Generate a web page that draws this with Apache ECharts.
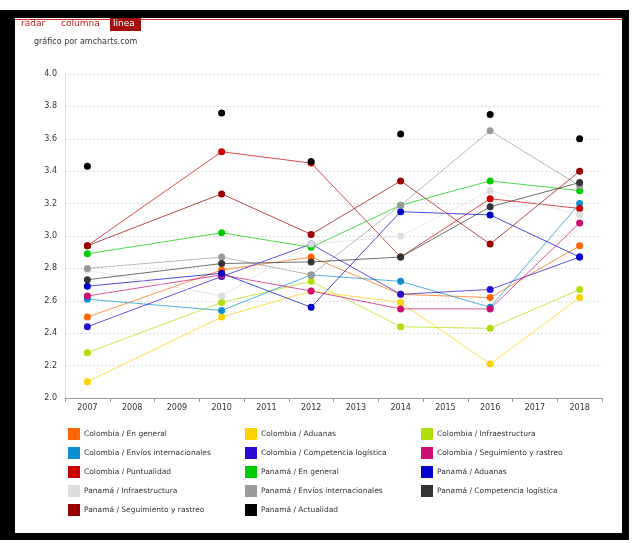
<!DOCTYPE html>
<html>
<head>
<meta charset="utf-8">
<title>Desempeño logístico: Colombia y Panamá</title>
<script src="https://cdn.jsdelivr.net/npm/echarts@6/dist/echarts.min.js"></script>
<style>
  html, body { margin: 0; padding: 0; background: #ffffff; }
  #chart { width: 634px; height: 543px; }
</style>
</head>
<body>
<div id="chart"></div>
<script>
// Years on the category axis
const years = ['2007', '2008', '2009', '2010', '2011', '2012', '2013', '2014', '2015', '2016', '2017', '2018'];

// Index values per series (null = no survey that year)
const colEnGeneral      = [2.50, null, null, 2.79, null, 2.87, null, 2.64, null, 2.62, null, 2.94];
const colAduanas        = [2.10, null, null, 2.50, null, 2.66, null, 2.59, null, 2.21, null, 2.62];
const colInfra          = [2.28, null, null, 2.59, null, 2.72, null, 2.44, null, 2.43, null, 2.67];
const colEnvios         = [2.61, null, null, 2.54, null, 2.76, null, 2.72, null, 2.56, null, 3.20];
const colCompetencia    = [2.44, null, null, 2.75, null, 2.95, null, 2.64, null, 2.67, null, 2.87];
const colSeguimiento    = [2.63, null, null, 2.76, null, 2.66, null, 2.55, null, 2.55, null, 3.08];
const colPuntualidad    = [2.94, null, null, 3.52, null, 3.45, null, 2.87, null, 3.23, null, 3.17];
const panEnGeneral      = [2.89, null, null, 3.02, null, 2.93, null, 3.19, null, 3.34, null, 3.28];
const panAduanas        = [2.69, null, null, 2.77, null, 2.56, null, 3.15, null, 3.13, null, 2.87];
const panInfra          = [2.79, null, null, 2.63, null, 2.95, null, 3.00, null, 3.28, null, 3.13];
const panEnvios         = [2.80, null, null, 2.87, null, 2.76, null, 3.19, null, 3.65, null, 3.31];
const panCompetencia    = [2.73, null, null, 2.83, null, 2.84, null, 2.87, null, 3.18, null, 3.33];
const panSeguimiento    = [2.94, null, null, 3.26, null, 3.01, null, 3.34, null, 2.95, null, 3.40];
const panActualidad     = [3.43, null, null, 3.76, null, 3.46, null, 3.63, null, 3.75, null, 3.60];

const seriesNames = [
  'Colombia / En general', 'Colombia / Aduanas', 'Colombia / Infraestructura',
  'Colombia / Envíos internacionales', 'Colombia / Competencia logística', 'Colombia / Seguimiento y rastreo',
  'Colombia / Puntualidad', 'Panamá / En general', 'Panamá / Aduanas',
  'Panamá / Infraestructura', 'Panamá / Envíos internacionales', 'Panamá / Competencia logística',
  'Panamá / Seguimiento y rastreo', 'Panamá / Actualidad'
];
const seriesValues = [
  colEnGeneral, colAduanas, colInfra, colEnvios, colCompetencia, colSeguimiento, colPuntualidad,
  panEnGeneral, panAduanas, panInfra, panEnvios, panCompetencia, panSeguimiento, panActualidad
];
const seriesColors = [
  '#FF6600', '#FCD202', '#B0DE09', '#0D8ECF', '#2A0CD0', '#CD0D74', '#CC0000',
  '#00CC00', '#0000CC', '#DDDDDD', '#999999', '#333333', '#990000', '#000000'
];

// Y axis range
const yMin = 2.0, yMax = 4.0, yStep = 0.2;

const FONT = '"DejaVu Sans", Verdana, sans-serif';

const chart = echarts.init(document.getElementById('chart'), null, { renderer: 'canvas' });

const series = seriesNames.map((name, i) => ({
  name,
  type: 'line',
  data: seriesValues[i],
  connectNulls: true,
  symbol: 'circle',
  symbolSize: 7,
  showSymbol: true,
  color: seriesColors[i],
  itemStyle: { color: seriesColors[i] },
  lineStyle: {
    width: 1,
    color: seriesColors[i],
    // the "actualidad" series is drawn as bare points
    opacity: i === 13 ? 0 : 0.7
  },
  emphasis: { disabled: true },
  animation: false
}));

// Three legend columns, filled row by row
function legendColumn(col, left) {
  return {
    data: seriesNames.filter((_, i) => i % 3 === col),
    orient: 'vertical',
    left: left,
    top: 423,
    itemWidth: 12,
    itemHeight: 12,
    itemGap: 7,
    icon: 'rect',
    textStyle: { fontFamily: FONT, fontSize: 7.5, color: '#333333', padding: [0, 0, 0, -1] },
    selectedMode: false
  };
}

chart.setOption({
  backgroundColor: '#ffffff',
  animation: false,
  textStyle: { fontFamily: FONT },
  grid: { left: 65, right: 32, top: 74, bottom: 145, containLabel: false },
  xAxis: {
    type: 'category',
    data: years,
    boundaryGap: true,
    axisLine: { show: true, lineStyle: { color: '#999999', width: 1 } },
    axisTick: { show: true, interval: 0, length: 4, lineStyle: { color: '#999999' } },
    axisLabel: { interval: 0, fontSize: 8, color: '#333333', fontFamily: FONT, margin: 6 },
    splitLine: { show: false }
  },
  yAxis: {
    type: 'value',
    min: yMin,
    max: yMax,
    interval: yStep,
    axisLine: { show: true, lineStyle: { color: '#dddddd' } },
    axisTick: { show: false },
    axisLabel: {
      fontSize: 8, color: '#333333', fontFamily: FONT, margin: 8,
      formatter: v => v.toFixed(1)
    },
    splitLine: { show: true, lineStyle: { color: '#dddddd', type: [2, 2], width: 1 } }
  },
  legend: [legendColumn(0, 63), legendColumn(1, 240), legendColumn(2, 416)],
  series,
  graphic: [
    // page frame
    { type: 'rect', shape: { x: 0, y: 10, width: 629, height: 8 }, style: { fill: '#000000' }, silent: true },
    { type: 'rect', shape: { x: 0, y: 10, width: 15, height: 530 }, style: { fill: '#000000' }, silent: true },
    { type: 'rect', shape: { x: 622, y: 10, width: 7, height: 530 }, style: { fill: '#000000' }, silent: true },
    { type: 'rect', shape: { x: 0, y: 533, width: 629, height: 7 }, style: { fill: '#000000' }, silent: true },
    // tab bar
    { type: 'rect', shape: { x: 15, y: 19, width: 607, height: 1 }, style: { fill: '#cc3333' }, silent: true },
    { type: 'text', left: 21, top: 19, style: { text: 'radar', fill: '#bb2222', font: '9px ' + FONT }, silent: true },
    { type: 'text', left: 61, top: 19, style: { text: 'columna', fill: '#bb2222', font: '9px ' + FONT }, silent: true },
    { type: 'rect', shape: { x: 110, y: 18, width: 31, height: 13 }, style: { fill: '#a30f0f' }, silent: true },
    { type: 'text', left: 113, top: 19, style: { text: 'linea', fill: '#ffffff', font: '9px ' + FONT }, silent: true },
    { type: 'text', left: 34, top: 38, style: { text: 'gráfico por amcharts.com', fill: '#333333', font: '8px ' + FONT }, silent: true }
  ]
});
</script>
</body>
</html>
